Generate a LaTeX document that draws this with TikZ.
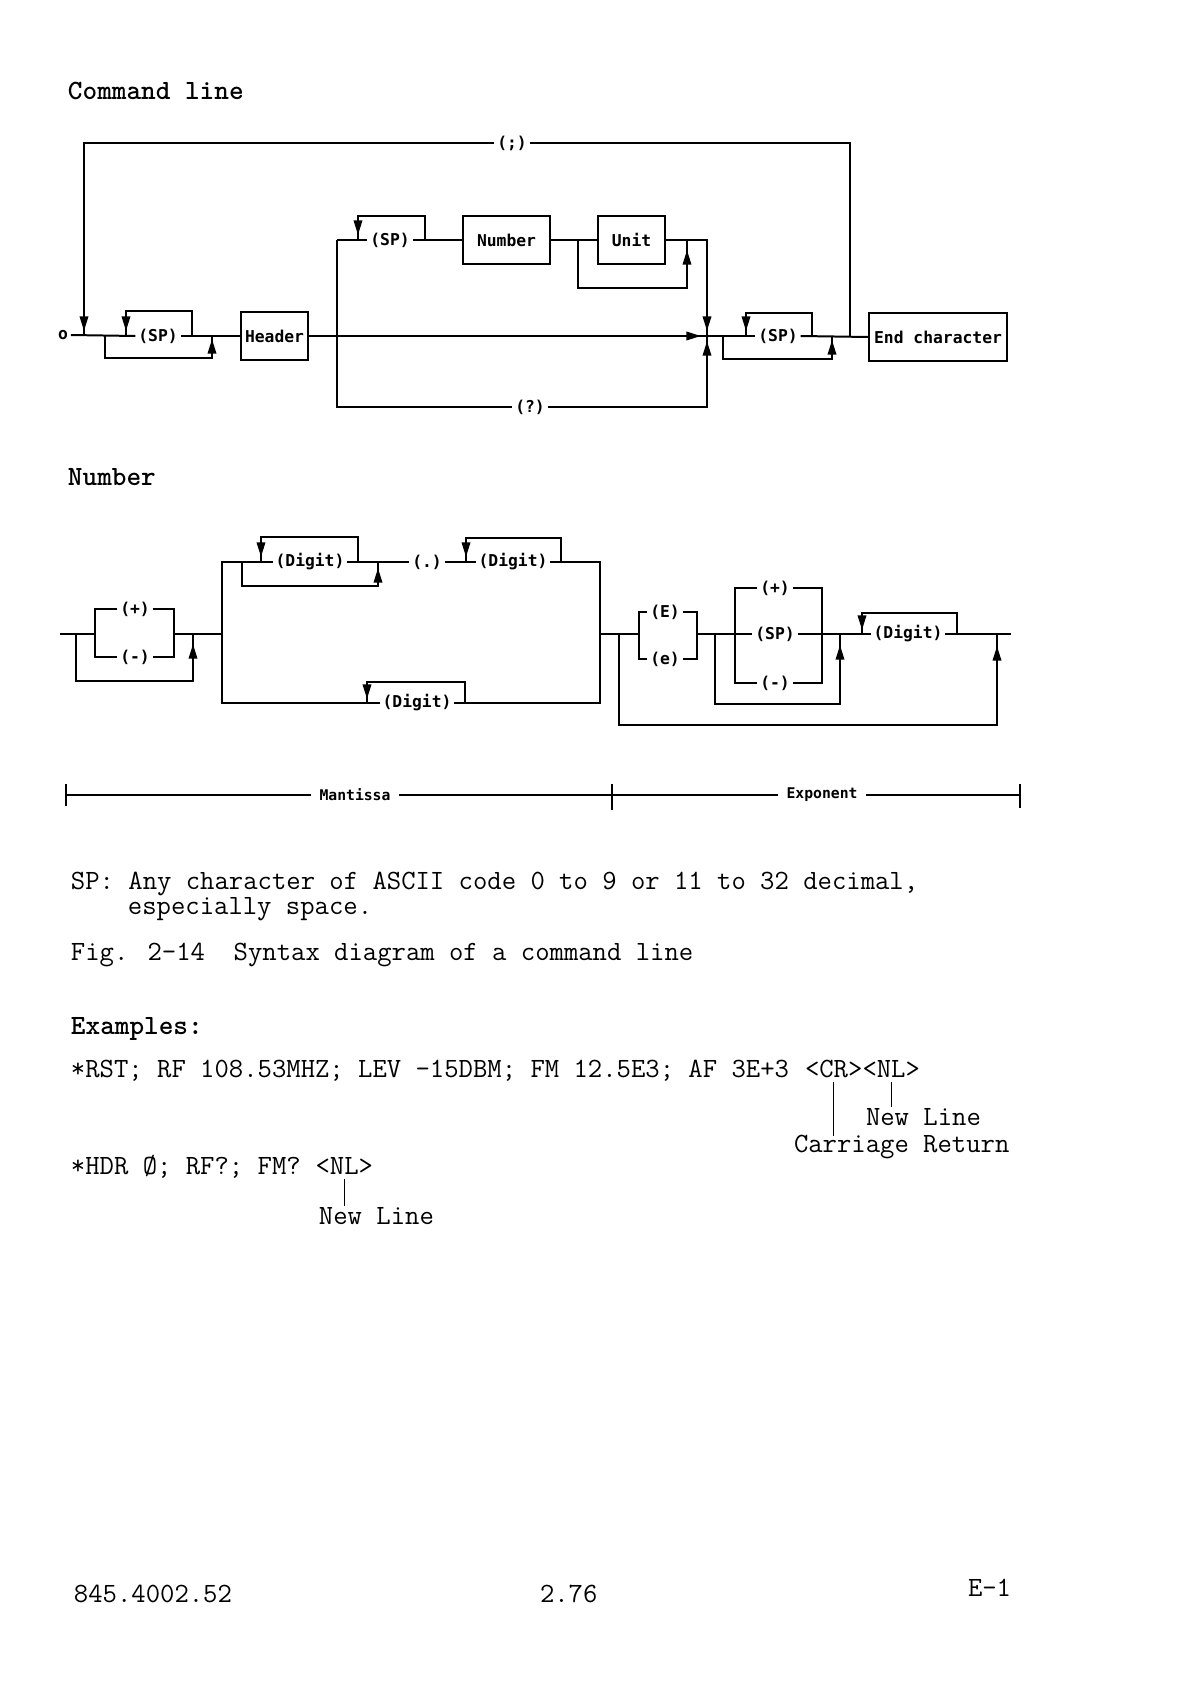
\documentclass[tikz,border=0pt]{standalone}
\usepackage{fontspec}
\newfontfamily\plotfont{DejaVu Sans Mono}
\usetikzlibrary{arrows.meta}
\newcommand\typefont{\ttfamily\fontsize{14}{16}\selectfont}

\begin{document}
\begin{tikzpicture}[x=0.17647mm, y=-0.17647mm, line width=1pt,
  lbl/.style={font=\plotfont\bfseries\fontsize{8.2}{9}\selectfont, inner sep=1pt},
  blk/.style={lbl, draw, minimum height=8.3mm, inner xsep=1.5pt},
  arr/.style={-{Triangle[length=2.6mm,width=1.5mm]}},
  txt/.style={font=\typefont, anchor=base west, inner sep=0pt},
  headtxt/.style={txt, font=\typefont\bfseries},
  tick/.style={line width=0.5pt}]

\useasboundingbox (0,0) rectangle (1190,1684);

\node[headtxt] (cmdhead) at (67,100) {Command line};

\node[lbl] (start) at (63,335) {o};
\node[lbl] (semi) at (512,143) {(;)};
\node[lbl] (sp1) at (158,336) {(SP)};
\node[blk, minimum width=11.8mm] (hdr) at (274.5,336) {Header};
\node[lbl] (sp2) at (390,240) {(SP)};
\node[blk, minimum width=15.4mm] (num) at (506.5,240) {Number};
\node[blk, minimum width=11.8mm] (unit) at (631.5,240) {Unit};
\node[lbl] (qm) at (530,407) {(?)};
\node[lbl] (sp3) at (778,336) {(SP)};
\node[blk, minimum width=24.2mm] (endc) at (938,337) {End character};

\draw (850,337) -- (850,143) -- (semi.east);
\draw (semi.west) -- (84,143) -- (84,336);
\draw[arr] (84,306) -- (84,331);

\draw (start.east) -- (sp1.west);
\draw (sp1.east) -- (hdr.west);
\draw (192,336) -- (192,311) -- (126,311) -- (126,336);
\draw[arr] (126,311) -- (126,331);
\draw (105,336) -- (105,358) -- (212,358) -- (212,336);
\draw[arr] (212,358) -- (212,339);

\draw (hdr.east) -- (sp3.west);
\draw[arr] (670,336) -- (701,336);
\draw (337,240) -- (337,407) -- (qm.west);
\draw (qm.east) -- (707,407) -- (707,240) -- (unit.east);
\draw[arr] (707,300) -- (707,331);
\draw[arr] (707,372) -- (707,341);

\draw (337,240) -- (sp2.west);
\draw (sp2.east) -- (num.west);
\draw (425,240) -- (425,216) -- (358,216) -- (358,240);
\draw[arr] (358,216) -- (358,235);
\draw (num.east) -- (unit.west);
\draw (578,240) -- (578,288) -- (687,288) -- (687,240);
\draw[arr] (687,288) -- (687,250);

\draw (sp3.east) -- (endc.west);
\draw (812,336) -- (812,313) -- (746,313) -- (746,336);
\draw[arr] (746,313) -- (746,331);
\draw (723,336) -- (723,359) -- (832,359) -- (832,336);
\draw[arr] (832,359) -- (832,340);

\node[headtxt] (numhead) at (67,485) {Number};

\node[lbl] (plus) at (135,609) {(+)};
\node[lbl] (minus) at (135,657) {(-)};
\node[lbl] (dig1) at (310,562) {(Digit)};
\node[lbl] (dot) at (427,562) {(.)};
\node[lbl] (dig2) at (513,562) {(Digit)};
\node[lbl] (dig3) at (417,703) {(Digit)};
\node[lbl] (bigE) at (665,612) {(E)};
\node[lbl] (smallE) at (665,659) {(e)};
\node[lbl] (eplus) at (775,588) {(+)};
\node[lbl] (esp) at (775,634) {(SP)};
\node[lbl] (eminus) at (775,683) {(-)};
\node[lbl] (dig4) at (908,634) {(Digit)};

\draw (60,634) -- (95,634);
\draw (plus.west) -- (95,609) -- (95,657) -- (minus.west);
\draw (plus.east) -- (174,609) -- (174,657) -- (minus.east);
\draw (174,634) -- (222,634);
\draw (76,634) -- (76,681) -- (193,681) -- (193,634);
\draw[arr] (193,681) -- (193,644);

\draw (dig1.west) -- (222,562) -- (222,703) -- (dig3.west);
\draw (dig1.east) -- (dot.west);
\draw (358,562) -- (358,537) -- (261,537) -- (261,562);
\draw[arr] (261,537) -- (261,557);
\draw (242,562) -- (242,586) -- (378,586) -- (378,562);
\draw[arr] (378,586) -- (378,568);
\draw (dot.east) -- (dig2.west);
\draw (561,562) -- (561,538) -- (466,538) -- (466,562);
\draw[arr] (466,538) -- (466,557);
\draw (dig2.east) -- (600,562) -- (600,703) -- (dig3.east);
\draw (465,703) -- (465,682) -- (367,682) -- (367,703);
\draw[arr] (367,682) -- (367,699);

\draw (600,634) -- (639,634);
\draw (bigE.west) -- (639,612) -- (639,659) -- (smallE.west);
\draw (bigE.east) -- (697,612) -- (697,659) -- (smallE.east);
\draw (697,634) -- (735,634);
\draw (eplus.west) -- (735,588) -- (735,683) -- (eminus.west);
\draw (eplus.east) -- (822,588) -- (822,683) -- (eminus.east);
\draw (735,634) -- (esp.west);
\draw (esp.east) -- (dig4.west);
\draw (715,634) -- (715,704) -- (840,704) -- (840,634);
\draw[arr] (840,704) -- (840,645);
\draw (957,634) -- (957,613) -- (862,613) -- (862,634);
\draw[arr] (862,613) -- (862,630);
\draw (dig4.east) -- (1011,634);
\draw (619,634) -- (619,725) -- (997,725) -- (997,634);
\draw[arr] (997,725) -- (997,646);

\node[lbl, font=\plotfont\bfseries\fontsize{7.4}{8}\selectfont] (mant) at (355,795) {Mantissa};
\node[lbl, font=\plotfont\bfseries\fontsize{7.4}{8}\selectfont] (expo) at (822,795) {Exponent};
\draw (66,784) -- (66,806);
\draw (612,784) -- (612,810);
\draw (1020,784) -- (1020,808);
\draw (66,795) -- ([xshift=-3pt]mant.west);
\draw ([xshift=3pt]mant.east) -- (612,795) -- ([xshift=-3pt]expo.west);
\draw ([xshift=3pt]expo.east) -- (1020,795);

\node[txt] (spnote) at (70,889) {SP: Any character of ASCII code 0 to 9 or 11 to 32 decimal,};
\node[txt] (spnote2) at (127,914) {especially space.};
\node[txt] (figcap) at (70,960) {Fig. 2-14\ \ Syntax diagram of a command line};
\node[headtxt] (exhead) at (70,1034) {Examples:};

\node[txt] (ex1) at (70,1077) {*RST; RF 108.53MHZ; LEV -15DBM; FM 12.5E3; AF 3E+3};
\node[txt] (cr) at (804,1077) {<CR>};
\node[txt] (nl) at (861.5,1077) {<NL>};
\node[txt] (nllbl) at (865,1125) {New Line};
\node[txt] (crlbl) at (793,1152) {Carriage Return};
\draw[tick] ([yshift=-2pt]cr.south) -- ([yshift=-1pt]cr.south |- crlbl.north);
\draw[tick] ([yshift=-2pt]nl.south) -- (nl.south |- nllbl.north);

\node[txt] (ex2) at (70,1174) {*HDR Ø; RF?; FM?};
\node[txt] (nl2) at (314.6,1174) {<NL>};
\node[txt] (nllbl2) at (318,1224) {New Line};
\draw[tick] ([yshift=-2pt]nl2.south) -- (nl2.south |- nllbl2.north);

\node[txt] (docno) at (73,1602) {845.4002.52};
\node[txt] (pageno) at (539,1602) {2.76};
\node[txt] (sect) at (967,1596) {E-1};

\end{tikzpicture}
\end{document}
